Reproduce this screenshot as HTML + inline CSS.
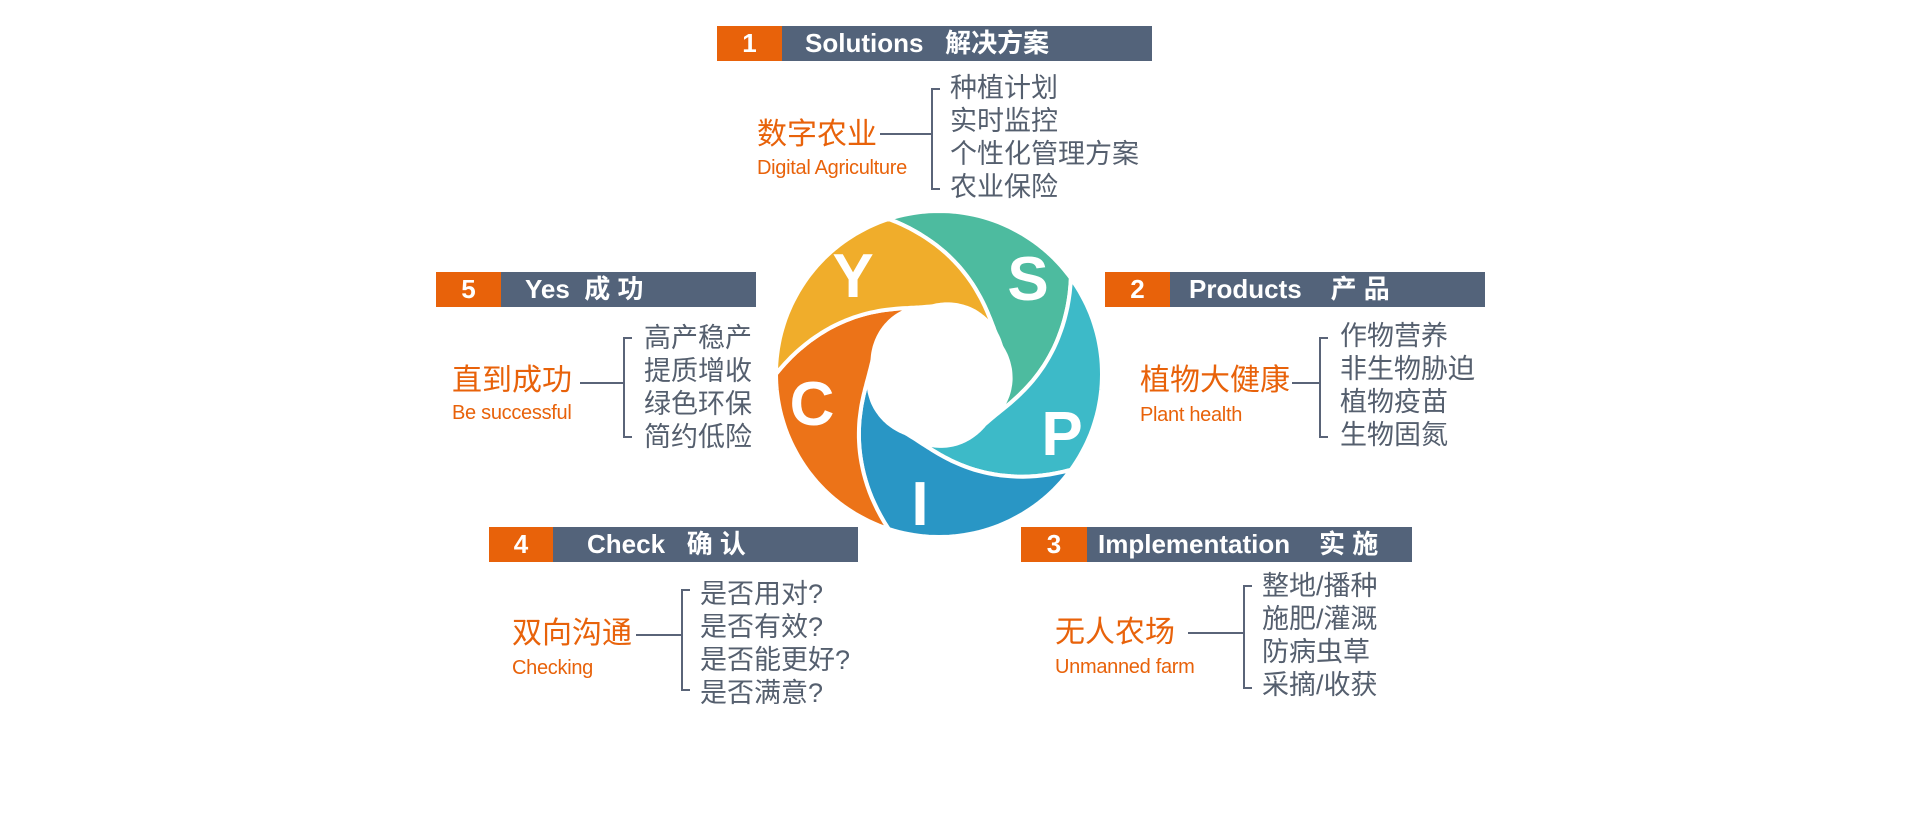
<!DOCTYPE html>
<html><head><meta charset="utf-8">
<style>
body{margin:0;width:1920px;height:834px;background:#fff;position:relative;overflow:hidden;font-family:"Liberation Sans","Noto Sans CJK SC",sans-serif}
.bn{position:absolute;height:35px;background:#53637a;color:#fff;font-weight:bold;font-size:26px;line-height:35px;white-space:pre}
.bn .n{position:absolute;left:0;top:0;height:35px;background:#e8620a;text-align:center}
.bn .t{position:absolute;top:0}
.lab{position:absolute;color:#e8620a;font-size:30px;line-height:30px;white-space:nowrap}
.sub{position:absolute;color:#e8620a;font-size:20px;line-height:20px;white-space:nowrap;letter-spacing:-0.3px}
.lst{position:absolute;color:#555f6e;font-size:27px;line-height:33px;white-space:nowrap}
</style></head><body>

<div class="bn" style="left:717px;top:26px;width:435px"><div class="n" style="width:65px">1</div><div class="t" style="left:88px">Solutions   解决方案</div></div>
<div class="bn" style="left:436px;top:272px;width:320px"><div class="n" style="width:65px">5</div><div class="t" style="left:89px">Yes  成 功</div></div>
<div class="bn" style="left:1105px;top:272px;width:380px"><div class="n" style="width:65px">2</div><div class="t" style="left:84px">Products    产 品</div></div>
<div class="bn" style="left:489px;top:527px;width:369px"><div class="n" style="width:64px">4</div><div class="t" style="left:98px">Check   确 认</div></div>
<div class="bn" style="left:1021px;top:527px;width:391px"><div class="n" style="width:66px">3</div><div class="t" style="left:77px">Implementation    实 施</div></div>

<div class="lab" style="left:757px;top:120px">数字农业</div>
<div class="sub" style="left:757px;top:158px">Digital Agriculture</div>
<div class="lst" style="left:950px;top:72px">种植计划<br>实时监控<br>个性化管理方案<br>农业保险</div>

<div class="lab" style="left:452px;top:366px">直到成功</div>
<div class="sub" style="left:452px;top:403px">Be successful</div>
<div class="lst" style="left:644px;top:322px">高产稳产<br>提质增收<br>绿色环保<br>简约低险</div>

<div class="lab" style="left:1140px;top:366px">植物大健康</div>
<div class="sub" style="left:1140px;top:405px">Plant health</div>
<div class="lst" style="left:1340px;top:320px">作物营养<br>非生物胁迫<br>植物疫苗<br>生物固氮</div>

<div class="lab" style="left:512px;top:619px">双向沟通</div>
<div class="sub" style="left:512px;top:658px">Checking</div>
<div class="lst" style="left:700px;top:578px">是否用对?<br>是否有效?<br>是否能更好?<br>是否满意?</div>

<div class="lab" style="left:1055px;top:618px">无人农场</div>
<div class="sub" style="left:1055px;top:657px">Unmanned farm</div>
<div class="lst" style="left:1262px;top:570px">整地/播种<br>施肥/灌溉<br>防病虫草<br>采摘/收获</div>

<svg id="s" width="1920" height="834" style="position:absolute;left:0;top:0">
<g stroke="#5a6478" stroke-width="2" fill="none">
<path d="M880 134H932M940 89H932V189H940"/>
<path d="M580 383H624M632 338H624V437H632"/>
<path d="M1292 383H1320M1328 338H1320V437H1328"/>
<path d="M636 635H682M690 590H682V690H690"/>
<path d="M1188 633H1244M1252 586H1244V688H1252"/>
</g>
<g id="w"></g>
<g fill="#fff" font-weight="bold" font-size="62" text-anchor="middle" font-family="Liberation Sans,sans-serif">
<text x="853" y="297">Y</text>
<text x="1028" y="300">S</text>
<text x="1062" y="455">P</text>
<text x="920" y="525">I</text>
<text x="812" y="425">C</text>
</g>
</svg>
<script>
(function(){
var cx=939,cy=374,R=163,r=68,D=84;
var cols=["#4dbb9f","#3dbac8","#2996c5","#ec7318","#f0ad2b"];
function P(rho,a){a=a*Math.PI/180;return (cx+rho*Math.cos(a)).toFixed(1)+","+(cy+rho*Math.sin(a)).toFixed(1);}
function C(phi,t){var f=1-(1-t)*(1-t);return P(R-(R-r)*f,phi+D*t);}
var g=document.getElementById("w"),h="";
for(var k=0;k<5;k++){
 var f=-108+72*k,pts=[],i,N=40;
 for(i=0;i<=N;i++)pts.push(P(R,f+72*i/N));
 for(i=0;i<=N;i++)pts.push(C(f+72,i/N));
 for(i=0;i<=N;i++){var a=f+72+D-72*i/N;pts.push(P(r+4*Math.sin(Math.PI*i/N),a));}
 for(i=N;i>=0;i--)pts.push(C(f,i/N));
 h+='<polygon points="'+pts.join(" ")+'" fill="'+cols[k]+'" stroke="#fff" stroke-width="4" stroke-linejoin="round"/>';
}
g.innerHTML=h;
})();
</script>
</body></html>
